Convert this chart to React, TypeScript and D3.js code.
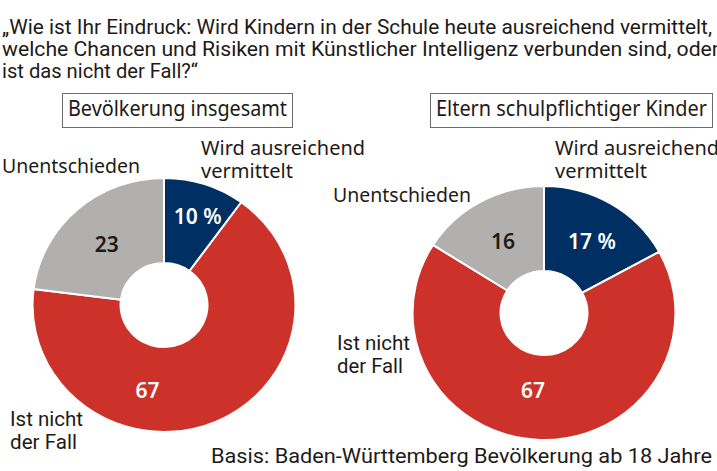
import React from 'react';
import * as d3 from 'd3';

// categories in clockwise order from 12 o'clock
const categories = ["Wird ausreichend vermittelt", "Ist nicht der Fall", "Unentschieden"];
const groups = ["Bevölkerung insgesamt", "Eltern schulpflichtiger Kinder"];
const valuesAll = [10, 67, 23];
const valuesParents = [17, 67, 16];
const sliceColors = ["#003063", "#cc3229", "#b1b0af"];
const valueTextColors = ["#ffffff", "#ffffff", "#1e1a17"];

const questionLines = [
    "\u201EWie ist Ihr Eindruck: Wird Kindern in der Schule heute ausreichend vermittelt,",
    "welche Chancen und Risiken mit Künstlicher Intelligenz verbunden sind, oder",
    "ist das nicht der Fall?\u201C",
];
const footnote = "Basis: Baden-Württemberg Bevölkerung ab 18 Jahre";

const INK = "#1e1a17";
const REGULAR = "'Noto Sans', 'Open Sans', sans-serif";
const NARROW = "'Roboto', 'DejaVu Sans Condensed', sans-serif";

// layout only: where each donut and its labels sit
const donutLayout = [
    {
        cx: 164, cy: 305, values: valuesAll, group: groups[0],
        box: {x: 62, y: 93, w: 230, h: 34, textLen: 219},
        // label nudges: angle (deg) and radius (px) relative to the slice middle
        nudge: [{da: 2, dr: 9}, {da: 34, dr: 0}, {da: -1, dr: -4}],
        labels: [
            {x: 201, y: 155, lines: ["Wird ausreichend", "vermittelt"], lens: [164, 92], narrow: false},
            {x: 10, y: 426, lines: ["Ist nicht", "der Fall"], lens: [73, 67], narrow: true},
            {x: 2, y: 173, lines: ["Unentschieden"], lens: [138], narrow: false},
        ],
    },
    {
        cx: 544, cy: 313, values: valuesParents, group: groups[1],
        box: {x: 430, y: 93, w: 282, h: 34, textLen: 271},
        nudge: [{da: 2, dr: 0}, {da: 6, dr: -8}, {da: 0, dr: -4}],
        labels: [
            {x: 555, y: 155, lines: ["Wird ausreichend", "vermittelt"], lens: [164, 92], narrow: false},
            {x: 337, y: 350, lines: ["Ist nicht", "der Fall"], lens: [73, 66], narrow: true},
            {x: 333, y: 202, lines: ["Unentschieden"], lens: [138], narrow: false},
        ],
    },
];

const outerR = 127;
const innerR = 42;
const sx = 1.035; // the donuts are slightly wider than tall
const labelR = 86;

const Donut = (props: {layout: typeof donutLayout[number]}) => {
    const {cx, cy, values, group, box, labels, nudge} = props.layout;
    const pie = d3.pie<number>().sort(null).value(d => d);
    const arcs = pie(values);
    const arc = d3.arc<d3.PieArcDatum<number>>().innerRadius(innerR).outerRadius(outerR);

    return (
        <g>
            <rect x={box.x + 0.5} y={box.y + 0.5} width={box.w} height={box.h}
                  fill="white" stroke="#6e6a66" strokeWidth={1}/>
            <text x={box.x + 6} y={box.y + 23} fontFamily={REGULAR} fontSize={21} fill={INK}
                  textLength={box.textLen} lengthAdjust="spacingAndGlyphs">{group}</text>

            <g transform={`translate(${cx},${cy}) scale(${sx},1)`}>
                {arcs.map((a, i) => (
                    <path key={categories[i]} d={arc(a) || ""} fill={sliceColors[i]}
                          stroke="white" strokeWidth={2} vectorEffect="non-scaling-stroke"/>
                ))}
            </g>

            {arcs.map((a, i) => {
                const mid = (a.startAngle + a.endAngle) / 2 + nudge[i].da * Math.PI / 180;
                const r = labelR + nudge[i].dr;
                const x = cx + Math.sin(mid) * r * sx;
                const y = cy - Math.cos(mid) * r;
                return (
                    <text key={"v" + i} x={x} y={y + 8} textAnchor="middle"
                          fontFamily={REGULAR} fontWeight={600} fontSize={21}
                          fill={valueTextColors[i]}>
                        {i === 0 ? a.data + " %" : a.data}
                    </text>
                );
            })}

            {labels.map((l, i) => (
                <text key={"l" + i} fontFamily={l.narrow ? NARROW : REGULAR}
                      fontSize={l.narrow ? 21 : 20} fill={INK}>
                    {l.lines.map((line, j) => (
                        <tspan key={j} x={l.x} y={l.y + j * 23}
                               textLength={l.lens[j]} lengthAdjust="spacingAndGlyphs">{line}</tspan>
                    ))}
                </text>
            ))}
        </g>
    );
};

const App = () => {
    const width = 717;
    const height = 471;
    return (
        <svg width={width} height={height}
             style={{position: "absolute", left: 0, top: 0, background: "white"}}>
            {questionLines.map((line, i) => (
                <text key={i} x={2} y={34 + i * 22} fontFamily={NARROW} fontSize={21} fill={INK}
                      textLength={[710, 717, 196][i]} lengthAdjust="spacingAndGlyphs">{line}</text>
            ))}
            {donutLayout.map((l, i) => <Donut key={i} layout={l}/>)}
            <text x={211} y={463} fontFamily={NARROW} fontSize={21} fill={INK}
                  textLength={501} lengthAdjust="spacingAndGlyphs">{footnote}</text>
        </svg>
    );
};

export default App;
